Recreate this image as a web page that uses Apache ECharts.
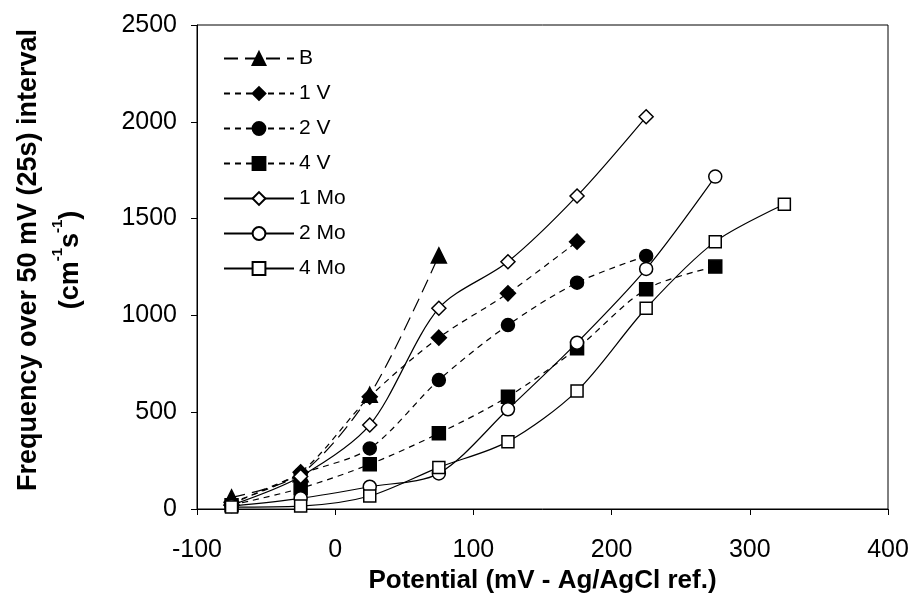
<!DOCTYPE html>
<html>
<head>
<meta charset="utf-8">
<script src="https://cdn.jsdelivr.net/npm/echarts@6/dist/echarts.min.js"></script>
<style>html,body{margin:0;padding:0;background:#fff}#c{width:914px;height:602px}</style>
</head>
<body>
<div id="c"></div>
<script>
// potentials (mV)
const potentials = [-75, -25, 25, 75, 125, 175, 225, 275, 325];
// frequency values per series (cm^-1 s^-1), aligned with potentials
const seriesNames = ['B', '1 V', '2 V', '4 V', '1 Mo', '2 Mo', '4 Mo'];
const valB   = [60, 180, 590, 1310];
const val1V  = [35, 190, 580, 885, 1114, 1381];
const val2V  = [25, 180, 313, 666, 950, 1169, 1307];
const val4V  = [20, 107, 231, 391, 580, 830, 1135, 1252];
const val1Mo = [20, 168, 434, 1037, 1277, 1617, 2026];
const val2Mo = [15, 55, 115, 184, 515, 859, 1240, 1717];
const val4Mo = [10, 15, 67, 215, 348, 610, 1037, 1381, 1574];
const xTicks = [-100, 0, 100, 200, 300, 400];
const yTicks = [0, 500, 1000, 1500, 2000, 2500];

const FONT = "'Liberation Sans', Arial, sans-serif";
const zip = vals => vals.map((v, i) => [potentials[i], v]);

function mk(name, vals, symbol, filled, dash, size) {
  return {
    name: name, type: 'line', data: zip(vals),
    smooth: 0.3,
    symbol: symbol, symbolSize: size,
    showSymbol: true,
    lineStyle: { color: '#000', width: 1.2, type: dash },
    itemStyle: { color: filled ? '#000' : '#fff', borderColor: '#000', borderWidth: 1.5 },
    z: filled ? 3 : 4
  };
}

const chart = echarts.init(document.getElementById('c'), null, { renderer: 'canvas' });
chart.setOption({
  animation: false,
  backgroundColor: '#fff',
  textStyle: { fontFamily: FONT, color: '#000' },
  grid: { left: 179, right: 26, top: 25, bottom: 93, show: true, borderColor: '#000', borderWidth: 1, backgroundColor: 'transparent' },
  legend: {
    orient: 'vertical', left: 218, top: 43,
    itemWidth: 70, itemHeight: 16, itemGap: 14,
    textStyle: { fontFamily: FONT, fontSize: 21, color: '#000' },
    data: seriesNames
  },
  xAxis: {
    type: 'value', min: xTicks[0], max: xTicks[xTicks.length - 1], interval: 100,
    name: 'Potential (mV - Ag/AgCl ref.)', nameLocation: 'middle', nameGap: 54,
    nameTextStyle: { fontFamily: FONT, fontSize: 26, fontWeight: 'bold', color: '#000' },
    axisLine: { onZero: false, lineStyle: { color: '#000', width: 1 } },
    axisTick: { show: true, inside: false, length: 6, lineStyle: { color: '#000' } },
    axisLabel: { fontFamily: FONT, fontSize: 25, color: '#000', margin: 29, formatter: v => String(v) },
    splitLine: { show: false }
  },
  yAxis: {
    type: 'value', min: yTicks[0], max: yTicks[yTicks.length - 1], interval: 500,
    name: '{t|Frequency over 50 mV (25s) interval}\n{t|(cm}{s|-1}{t|s}{s|-1}{t|)}',
    nameLocation: 'middle', nameGap: 105,
    nameTextStyle: {
      fontFamily: FONT, fontSize: 27, fontWeight: 'bold', color: '#000', align: 'center', lineHeight: 42,
      padding: [0, 0, 0, 14],
      rich: {
        t: { fontFamily: FONT, fontSize: 27, fontWeight: 'bold', color: '#000', lineHeight: 42 },
        s: { fontFamily: FONT, fontSize: 15, fontWeight: 'bold', color: '#000', verticalAlign: 'top', lineHeight: 42, padding: [0, 0, 12, 0] }
      }
    },
    axisLine: { show: true, onZero: false, lineStyle: { color: '#000', width: 1 } },
    axisTick: { show: true, inside: false, length: 6, lineStyle: { color: '#000' } },
    axisLabel: { fontFamily: FONT, fontSize: 25, color: '#000', margin: 20, formatter: v => String(v) },
    splitLine: { show: false }
  },
  series: [
    mk('B', valB, 'triangle', true, [14, 7], 15),
    mk('1 V', val1V, 'diamond', true, [6, 5], 15),
    mk('2 V', val2V, 'circle', true, [6, 5], 13),
    mk('4 V', val4V, 'rect', true, [6, 5], 13),
    mk('1 Mo', val1Mo, 'diamond', false, 'solid', 14),
    mk('2 Mo', val2Mo, 'circle', false, 'solid', 13),
    mk('4 Mo', val4Mo, 'rect', false, 'solid', 12)
  ]
});
</script>
</body>
</html>
